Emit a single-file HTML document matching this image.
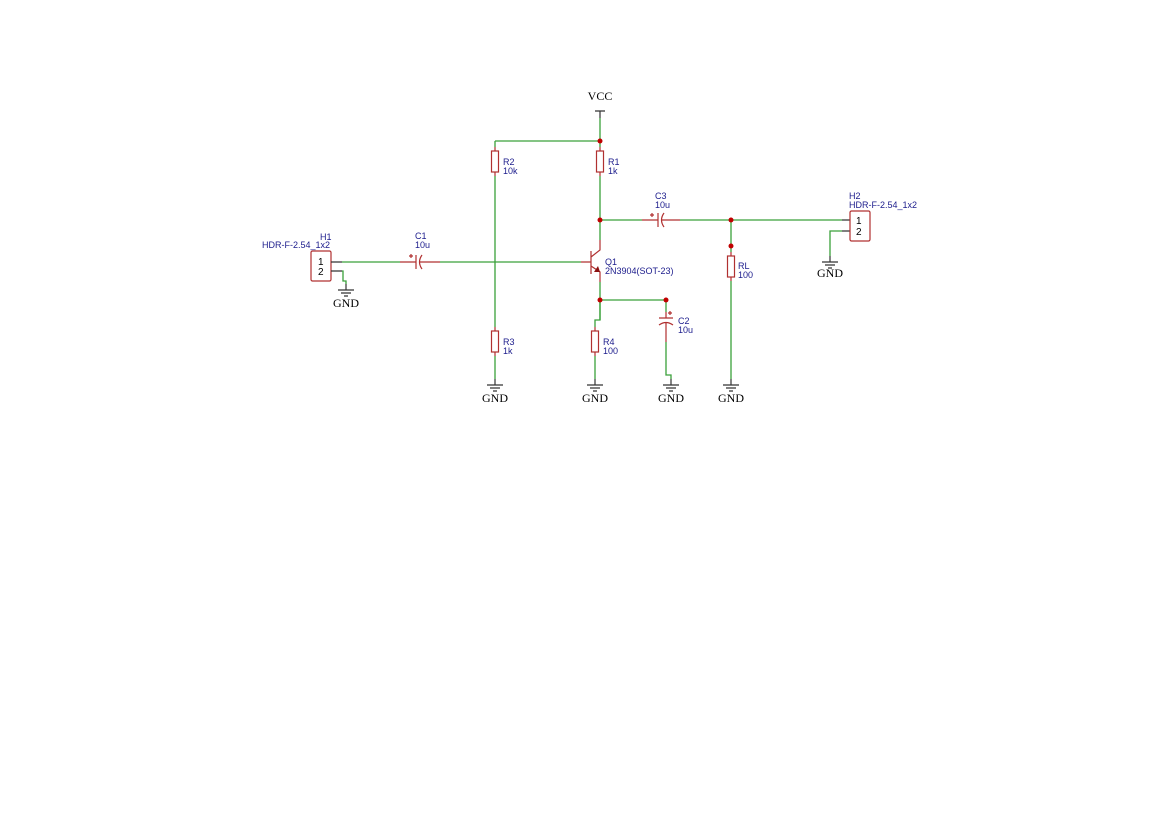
<!DOCTYPE html>
<html><head><style>
html,body{margin:0;padding:0;background:#fff;}
svg{display:block;}
.w{stroke:#3aa03a;stroke-width:1.3;fill:none;}
.r{stroke:#b03030;stroke-width:1.2;fill:none;}
.k{stroke:#333;stroke-width:1.2;fill:none;}
.l{font-family:"Liberation Sans",sans-serif;font-size:9px;fill:#1c1c8c;}
.g{font-family:"Liberation Serif",serif;font-size:12px;fill:#000;}
.p{font-family:"Liberation Sans",sans-serif;font-size:10px;fill:#000;}
</style></head><body>
<svg width="1170" height="827" viewBox="0 0 1170 827" xmlns="http://www.w3.org/2000/svg">
<defs>
<g id="gnd"><path class="k" d="M0 -6V0M-8 0H8M-5 3H5M-2 6H2"/></g>
</defs>
<!-- VCC -->
<text class="g" x="600" y="100" text-anchor="middle">VCC</text>
<path class="k" d="M595 111H605M600 111V118"/>
<path class="w" d="M600 118V141M495 141H600M600 141V147M495 141V147"/>
<!-- R2 -->
<path class="r" d="M495 147V151M495 172V176"/><rect class="r" x="491.5" y="151" width="7" height="21"/>
<path class="w" d="M495 176V327"/>
<text class="l" x="503" y="165">R2</text><text class="l" x="503" y="174">10k</text>
<!-- R3 -->
<path class="r" d="M495 327V331M495 352V356"/><rect class="r" x="491.5" y="331" width="7" height="21"/>
<path class="w" d="M495 356V379"/><use href="#gnd" x="495" y="385"/>
<text class="l" x="503" y="345">R3</text><text class="l" x="503" y="354">1k</text>
<text class="g" x="495" y="402" text-anchor="middle">GND</text>
<!-- R1 -->
<path class="r" d="M600 147V151M600 172V176"/><rect class="r" x="596.5" y="151" width="7" height="21"/>
<path class="w" d="M600 176V240"/>
<text class="l" x="608" y="165">R1</text><text class="l" x="608" y="174">1k</text>
<!-- Q1 -->
<path class="r" d="M581 262H591M591 251V274M591 257L600 250V240M591 266L600 272V282"/>
<path d="M600 272L594 272L598 266Z" fill="#8b1010"/>
<path class="w" d="M600 282V320"/>
<text class="l" x="605" y="265">Q1</text><text class="l" x="605" y="274">2N3904(SOT-23)</text>
<!-- R4 -->
<path class="w" d="M600 300V320H595V327"/>
<path class="r" d="M595 327V331M595 352V356"/><rect class="r" x="591.5" y="331" width="7" height="21"/>
<path class="w" d="M595 356V379"/><use href="#gnd" x="595" y="385"/>
<text class="l" x="603" y="345">R4</text><text class="l" x="603" y="354">100</text>
<text class="g" x="595" y="402" text-anchor="middle">GND</text>
<!-- C2 -->
<path class="w" d="M600 300H666V312"/>
<path class="r" d="M666 312V318M659 318H673M659 325Q666 320 673 325M666 322V342"/>
<path class="r" d="M668 313H672M670 311V315"/>
<path class="w" d="M666 342V375H671V379"/><use href="#gnd" x="671" y="385"/>
<text class="l" x="678" y="324">C2</text><text class="l" x="678" y="333">10u</text>
<text class="g" x="671" y="402" text-anchor="middle">GND</text>
<!-- C3 -->
<path class="w" d="M600 220H642"/>
<path class="r" d="M642 220H658M658 213V227M664 213Q659 220 664 227M661 220H680M650 215H654M652 213V217"/>
<path class="w" d="M680 220H842"/>
<text class="l" x="655" y="199">C3</text><text class="l" x="655" y="208">10u</text>
<!-- RL -->
<path class="w" d="M731 220V252"/>
<path class="r" d="M731 252V256M731 277V281"/><rect class="r" x="727.5" y="256" width="7" height="21"/>
<path class="w" d="M731 281V379"/><use href="#gnd" x="731" y="385"/>
<text class="l" x="738" y="269">RL</text><text class="l" x="738" y="278">100</text>
<text class="g" x="731" y="402" text-anchor="middle">GND</text>
<!-- H2 -->
<path class="k" d="M842 220H850M842 231H850"/>
<rect class="r" x="850" y="211" width="20" height="30" rx="1.5"/>
<text class="p" x="856" y="224">1</text><text class="p" x="856" y="235">2</text>
<path class="w" d="M842 231H830V256"/><use href="#gnd" x="830" y="262"/>
<text class="g" x="830" y="277" text-anchor="middle">GND</text>
<text class="l" x="849" y="199">H2</text><text class="l" x="849" y="208">HDR-F-2.54_1x2</text>
<!-- H1 -->
<rect class="r" x="311" y="251" width="20" height="30" rx="1.5"/>
<text class="p" x="318" y="265">1</text><text class="p" x="318" y="275">2</text>
<path class="k" d="M331 262H342M331 271H342"/>
<path class="w" d="M342 262H400M342 271H343V281H346V284"/>
<use href="#gnd" x="346" y="290"/>
<text class="g" x="346" y="307" text-anchor="middle">GND</text>
<text class="l" x="320" y="240">H1</text><text class="l" x="262" y="248">HDR-F-2.54_1x2</text>
<!-- C1 -->
<path class="r" d="M400 262H416M416 255V269M422 255Q417 262 422 269M419 262H440M409 256H413M411 254V258"/>
<path class="w" d="M440 262H581"/>
<text class="l" x="415" y="239">C1</text><text class="l" x="415" y="248">10u</text>
<!-- junctions -->
<g fill="#c00000">
<circle cx="600" cy="141" r="2.5"/><circle cx="600" cy="220" r="2.5"/>
<circle cx="600" cy="300" r="2.5"/><circle cx="666" cy="300" r="2.5"/>
<circle cx="731" cy="220" r="2.5"/><circle cx="731" cy="246" r="2.5"/>
</g>
</svg>
</body></html>
